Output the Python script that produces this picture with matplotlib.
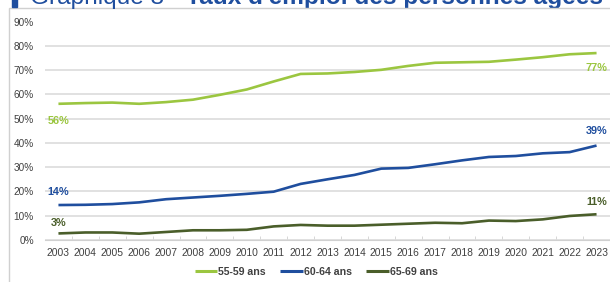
import matplotlib.pyplot as plt
from matplotlib.patches import Rectangle

years = list(range(2003, 2024))
taux_55_59 = [56.1, 56.4, 56.6, 56.1, 56.8, 57.8, 59.8, 62.0, 65.3, 68.4, 68.6,
              69.2, 70.1, 71.7, 73.0, 73.2, 73.4, 74.3, 75.3, 76.5, 77.0]
taux_60_64 = [14.4, 14.5, 14.8, 15.5, 16.8, 17.5, 18.2, 19.0, 19.9, 23.1, 25.0,
              26.8, 29.4, 29.7, 31.2, 32.8, 34.2, 34.6, 35.7, 36.2, 38.9]
taux_65_69 = [2.7, 3.1, 3.1, 2.6, 3.3, 4.0, 4.0, 4.2, 5.6, 6.2, 5.9,
              5.9, 6.3, 6.7, 7.1, 6.9, 8.0, 7.8, 8.5, 9.9, 10.6]
series_names = ['55-59 ans', '60-64 ans', '65-69 ans']
first_labels = ['56%', '14%', '3%']
last_labels = ['77%', '39%', '11%']
colors = ['#9BC640', '#1F4E9E', '#4A5E2A']
y_ticks = list(range(0, 100, 10))
title_a = 'Graphique 8 \u2022 '
title_b = "Taux d'emploi des personnes âgées"


def main():
    plt.rcParams['font.family'] = ['Liberation Sans', 'DejaVu Sans']
    fig = plt.figure(figsize=(6.1, 2.82), dpi=100)

    # frame + blue marker of the title block
    fig.patches.append(Rectangle((9 / 610, -0.1), 0.99, 1.1 - 8 / 282,
                                 transform=fig.transFigure, fill=False,
                                 edgecolor='#D0D0D0', linewidth=1.0))
    fig.patches.append(Rectangle((12 / 610, 1 - 7 / 282), 5 / 610, 0.1,
                                 transform=fig.transFigure, color='#1F4E9E'))

    ax = fig.add_axes([45 / 610, 1 - 240 / 282, 565 / 610, 218.5 / 282])

    # title, only its lower part is visible
    t1 = fig.text(30 / 610, 1 - 4 / 282, title_a, fontsize=17.6,
                  color='#1F4E9E', va='baseline', ha='left')
    ax.annotate(title_b, xy=(1, 0), xycoords=t1, fontsize=17.6,
                fontweight='bold', color='#1F4E9E', va='bottom', ha='left',
                annotation_clip=False)

    data = [taux_55_59, taux_60_64, taux_65_69]
    for vals, name, col in zip(data, series_names, colors):
        ax.plot(years, vals, color=col, linewidth=1.9, label=name,
                solid_capstyle='butt', zorder=3)

    ax.set_xlim(2002.5, 2023.5)
    ax.set_ylim(0, 90)
    ax.set_yticks(y_ticks)
    ax.set_yticklabels([f'{v}%' for v in y_ticks])
    ax.set_xticks(years)
    ax.set_xticklabels([str(y) for y in years])
    ax.set_xticks([y + 0.5 for y in years[:-1]], minor=True)
    ax.tick_params(axis='x', which='major', length=0, labelsize=7.4,
                   labelcolor='#404040', pad=6)
    ax.tick_params(axis='x', which='minor', length=3, color='#D0D0D0',
                   direction='in')
    ax.tick_params(axis='y', length=0, labelsize=7.2, labelcolor='#404040',
                   pad=8)
    ax.grid(axis='y', color='#DCDCDC', linewidth=1.2)
    for s in ['top', 'right', 'left']:
        ax.spines[s].set_visible(False)
    ax.spines['bottom'].set_color('#D0D0D0')
    ax.set_axisbelow(True)

    # data labels at first and last year
    lab_kw = dict(fontsize=7.8, fontweight='bold', ha='center', va='center')
    offsets_first = [-7.0, 5.5, 4.5]
    offsets_last = [-6.0, 6.0, 5.0]
    for vals, col, l1, l2, o1, o2 in zip(data, colors, first_labels,
                                         last_labels, offsets_first,
                                         offsets_last):
        ax.text(years[0], vals[0] + o1, l1, color=col, **lab_kw)
        ax.text(years[-1], vals[-1] + o2, l2, color=col, **lab_kw)

    leg = ax.legend(loc='center', bbox_to_anchor=(0.48, -0.145), ncol=3,
                    frameon=False, handlelength=2.1, handletextpad=0.1,
                    columnspacing=1.4,
                    prop={'size': 7.6, 'weight': 'bold'})
    for txt in leg.get_texts():
        txt.set_color('#404040')
    for ln in leg.get_lines():
        ln.set_linewidth(2.2)

    fig.savefig('out.png', dpi=100)


if __name__ == "__main__":
    main()
